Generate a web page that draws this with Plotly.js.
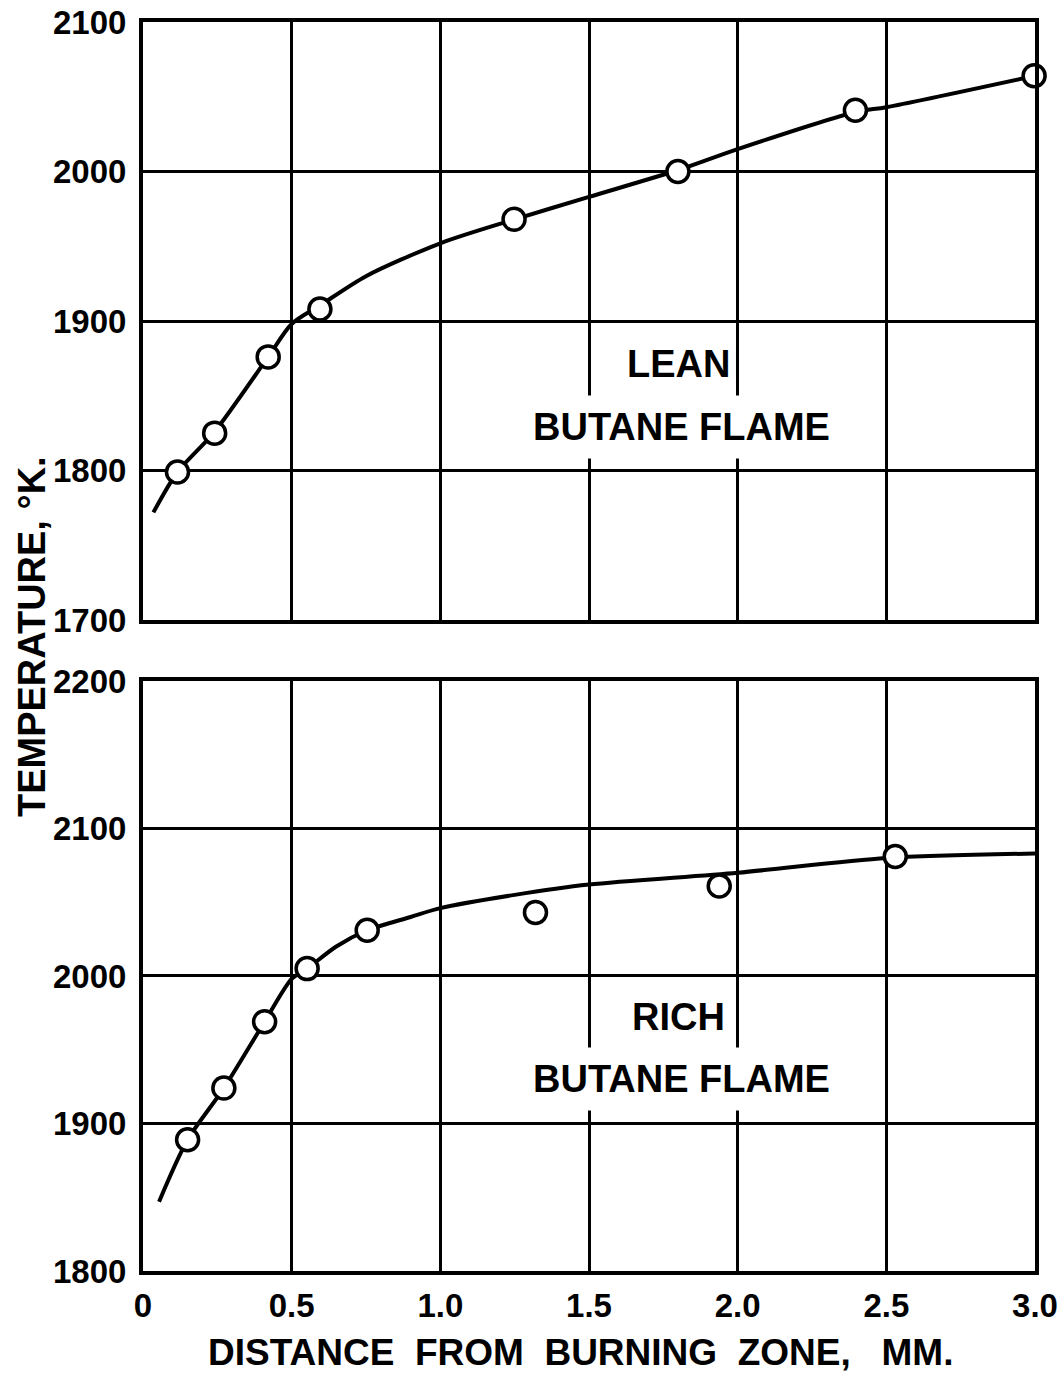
<!DOCTYPE html>
<html><head><meta charset="utf-8">
<script src="https://cdn.plot.ly/plotly-3.0.1.min.js"></script>
<style>html,body{margin:0;padding:0;background:#fff;}#chart{width:1064px;height:1378px;}</style>
</head><body><div id="chart"></div>
<script>
// Lean butane flame: measured points
const leanX = [0.116, 0.241, 0.421, 0.595, 1.248, 1.799, 2.396, 2.997];
const leanY = [1799, 1825, 1876, 1908, 1968, 2000, 2041, 2064];
// Lean butane flame: drawn curve
const leanCurveX = [0.035, 0.116, 0.241, 0.421, 0.5, 0.6, 0.75, 1.0, 1.25, 1.5, 1.8, 2.0, 2.4, 2.5, 3.0];
const leanCurveY = [1772, 1799, 1826, 1876, 1898, 1911, 1930, 1952, 1968, 1983, 2001, 2015, 2040, 2043, 2064];

// Rich butane flame: measured points
const richX = [0.150, 0.272, 0.409, 0.552, 0.754, 1.320, 1.938, 2.530];
const richY = [1889, 1924, 1969, 2005, 2031, 2043, 2061, 2081];
// Rich butane flame: drawn curve
const richCurveX = [0.054, 0.150, 0.272, 0.409, 0.5, 0.552, 0.65, 0.754, 0.9, 1.0, 1.25, 1.5, 2.0, 2.5, 3.0];
const richCurveY = [1847, 1889, 1924, 1969, 1998, 2005, 2020, 2031, 2040, 2046, 2055, 2062, 2070, 2080, 2083];

const xTicks = [0, 0.5, 1.0, 1.5, 2.0, 2.5, 3.0];
const xTickText = ['0', '0.5', '1.0', '1.5', '2.0', '2.5', '3.0'];
const leanYTicks = [1700, 1800, 1900, 2000, 2100];
const richYTicks = [1800, 1900, 2000, 2100, 2200];

const FONT = 'Liberation Sans, Arial, sans-serif';
const lineStyle = {color: '#000', width: 4, shape: 'spline', smoothing: 0.8};
const markerStyle = {symbol: 'circle', size: 22, color: '#fff', line: {color: '#000', width: 3.5}};

const traces = [
  {x: leanCurveX, y: leanCurveY, xaxis: 'x2', yaxis: 'y2', mode: 'lines', line: lineStyle, hoverinfo: 'skip'},
  {x: leanX, y: leanY, xaxis: 'x2', yaxis: 'y2', mode: 'markers', marker: markerStyle, cliponaxis: false},
  {x: richCurveX, y: richCurveY, xaxis: 'x', yaxis: 'y', mode: 'lines', line: lineStyle, hoverinfo: 'skip'},
  {x: richX, y: richY, xaxis: 'x', yaxis: 'y', mode: 'markers', marker: markerStyle, cliponaxis: false}
];

const axisCommon = {
  showline: true, linecolor: '#000', linewidth: 4, mirror: true,
  showgrid: true, gridcolor: '#000', gridwidth: 3,
  zeroline: false, ticks: '',
  tickfont: {family: FONT, size: 33, color: '#000', weight: 'bold'}
};

const layout = {
  width: 1064, height: 1378,
  paper_bgcolor: '#fff', plot_bgcolor: '#fff',
  showlegend: false,
  margin: {l: 143, r: 29, t: 22, b: 107},
  xaxis: Object.assign({}, axisCommon, {domain: [0, 1], anchor: 'y', range: [0, 3], tickvals: xTicks, ticktext: xTickText, ticklabelstandoff: 2}),
  yaxis: Object.assign({}, axisCommon, {domain: [0, 0.4724], anchor: 'x', range: [1800, 2200], tickvals: richYTicks, ticklabelstandoff: 6}),
  xaxis2: Object.assign({}, axisCommon, {domain: [0, 1], anchor: 'y2', range: [0, 3], tickvals: xTicks, showticklabels: false, matches: 'x'}),
  yaxis2: Object.assign({}, axisCommon, {domain: [0.5212, 1], anchor: 'x2', range: [1700, 2100], tickvals: leanYTicks, ticklabelstandoff: 6}),
  annotations: [
    {xref: 'x2', yref: 'y2', x: 1.80, y: 1871, text: 'LEAN', showarrow: false, font: {family: FONT, size: 38, color: '#000', weight: 'bold'}},
    {xref: 'x2', yref: 'y2', x: 1.81, y: 1829, text: 'BUTANE FLAME', showarrow: false, bgcolor: '#fff', borderpad: 10, font: {family: FONT, size: 38, color: '#000', weight: 'bold'}},
    {xref: 'x', yref: 'y', x: 1.80, y: 1972, text: 'RICH', showarrow: false, font: {family: FONT, size: 38, color: '#000', weight: 'bold'}},
    {xref: 'x', yref: 'y', x: 1.81, y: 1930, text: 'BUTANE FLAME', showarrow: false, bgcolor: '#fff', borderpad: 10, font: {family: FONT, size: 38, color: '#000', weight: 'bold'}},
    {xref: 'paper', yref: 'paper', x: -0.1244, y: 0.5076, xanchor: 'center', yanchor: 'middle', text: 'TEMPERATURE, °K.', textangle: -90, showarrow: false, font: {family: FONT, size: 38, color: '#000', weight: 'bold'}},
    {xref: 'paper', yref: 'paper', x: 0.49, y: -0.065, xanchor: 'center', yanchor: 'middle', text: 'DISTANCE  FROM  BURNING  ZONE,   MM.', showarrow: false, font: {family: FONT, size: 37, color: '#000', weight: 'bold'}}
  ]
};

Plotly.newPlot('chart', traces, layout, {staticPlot: true, displayModeBar: false});
</script>
</body></html>
